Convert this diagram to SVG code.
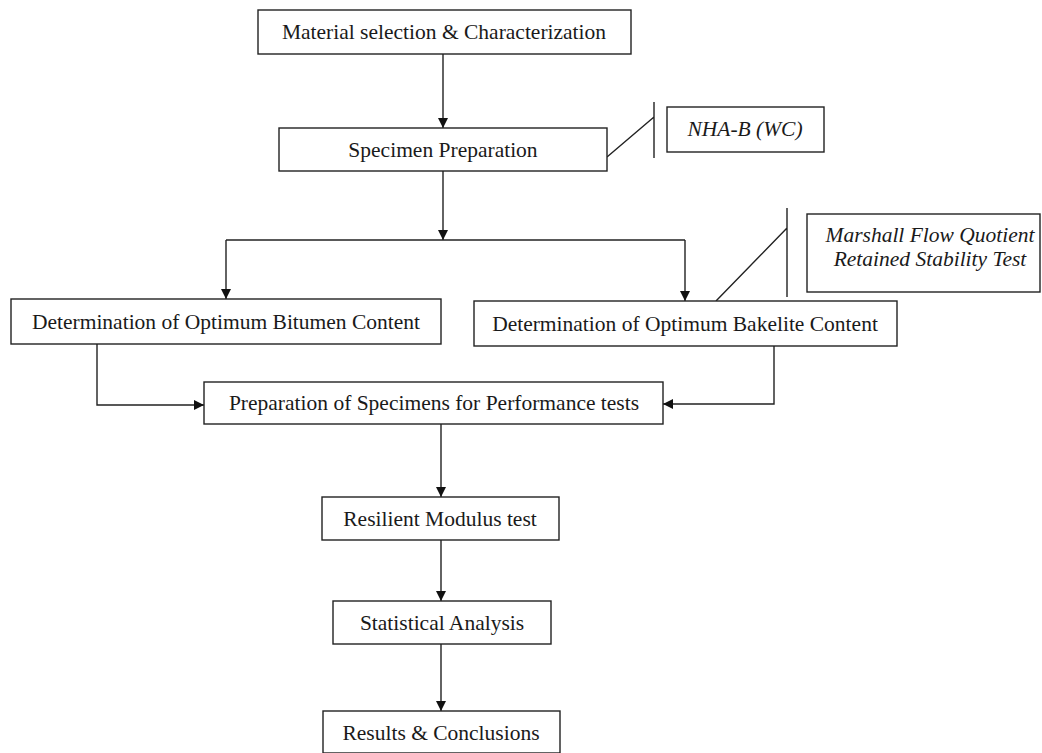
<svg xmlns="http://www.w3.org/2000/svg" width="1042" height="753" viewBox="0 0 1042 753">
<style>
.box{fill:#fff;stroke:#222;stroke-width:1.4}
.t{font-family:"Liberation Serif","Times New Roman",serif;font-size:21.5px;fill:#1a1a1a;text-anchor:middle}
.i{font-style:italic}
.c{fill:none;stroke:#222;stroke-width:1.4}
</style>
<defs>
<marker id="ah" markerUnits="userSpaceOnUse" markerWidth="12" markerHeight="12" viewBox="0 0 12 12" refX="11" refY="6" orient="auto">
<path d="M1,1 L11,6 L1,11 Z" fill="#111"/>
</marker>
</defs>
<rect width="1042" height="753" fill="#fff"/>
<g id="connectors">
<path class="c" d="M443,54 V128" marker-end="url(#ah)"/>
<path class="c" d="M443,171 V240" marker-end="url(#ah)"/>
<path class="c" d="M226,240 H685"/>
<path class="c" d="M226,240 V299" marker-end="url(#ah)"/>
<path class="c" d="M685,240 V301" marker-end="url(#ah)"/>
<path class="c" d="M97,344 V405 H204" marker-end="url(#ah)"/>
<path class="c" d="M774,346 V404 H663" marker-end="url(#ah)"/>
<path class="c" d="M441,424 V497" marker-end="url(#ah)"/>
<path class="c" d="M441,540 V601" marker-end="url(#ah)"/>
<path class="c" d="M441,644 V711" marker-end="url(#ah)"/>
<path class="c" d="M607,157 L654,117 M654,102 V158"/>
<path class="c" d="M716,301 L787,228 M787,208 V297"/>
</g>
<g id="n1"><rect class="box" x="258" y="10" width="373" height="44"/><text class="t" x="444" y="39">Material selection &amp; Characterization</text></g>
<g id="n2"><rect class="box" x="279" y="128" width="328" height="43"/><text class="t" x="443" y="157">Specimen Preparation</text></g>
<g id="n3"><rect class="box" x="11" y="299" width="430" height="45"/><text class="t" x="226" y="329">Determination of Optimum Bitumen Content</text></g>
<g id="n4"><rect class="box" x="474" y="301" width="423" height="45"/><text class="t" x="685" y="331">Determination of Optimum Bakelite Content</text></g>
<g id="n5"><rect class="box" x="204" y="382" width="459" height="42"/><text class="t" x="434" y="410">Preparation of Specimens for Performance tests</text></g>
<g id="n6"><rect class="box" x="322" y="497" width="237" height="43"/><text class="t" x="440" y="526">Resilient Modulus test</text></g>
<g id="n7"><rect class="box" x="333" y="601" width="218" height="43"/><text class="t" x="442" y="630">Statistical Analysis</text></g>
<g id="n8"><rect class="box" x="323" y="711" width="237" height="42"/><text class="t" x="441" y="740">Results &amp; Conclusions</text></g>
<g id="nha"><rect class="box" x="667" y="107" width="157" height="45"/><text class="t i" x="745" y="136">NHA-B (WC)</text></g>
<g id="marshall"><rect class="box" x="807" y="214" width="233" height="78"/><text class="t i" x="930" y="242">Marshall Flow Quotient</text><text class="t i" x="930" y="266">Retained Stability Test</text></g>
</svg>
